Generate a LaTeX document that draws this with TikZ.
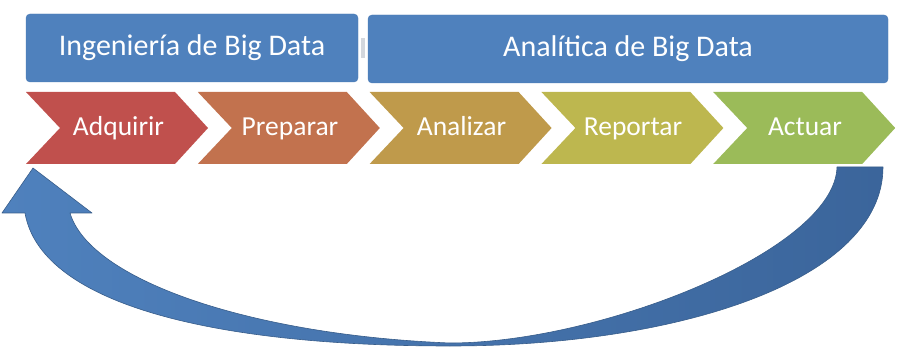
\documentclass[tikz,border=0pt]{standalone}
\usepackage{fontspec}
\setmainfont{Carlito}
\definecolor{boxblue}{HTML}{4F81BD}
\definecolor{boxedge}{HTML}{4A7AB5}
\definecolor{arrowL}{HTML}{4F81BD}
\definecolor{arrowR}{HTML}{3B659B}
\definecolor{arrowedge}{HTML}{385D8A}
\definecolor{cA}{HTML}{C0504D}
\definecolor{cB}{HTML}{C2724E}
\definecolor{cC}{HTML}{BF9A4B}
\definecolor{cD}{HTML}{BDB74F}
\definecolor{cE}{HTML}{9BBB59}
\definecolor{sepgray}{HTML}{D3D7DD}
\begin{document}
\begin{tikzpicture}[x=1pt,y=-1pt,
  bigbox/.style={fill=boxblue, draw=boxedge, rounded corners=4pt, text=white,
    font=\fontsize{30}{33}\selectfont, inner sep=0pt,
    text height=19.3pt, text depth=4pt, minimum height=68pt},
  chevtext/.style={text=white, font=\fontsize{27.5}{30}\selectfont, inner sep=0pt,
    text height=17.7pt, text depth=2pt},
  chev/.style={draw=none}]
\useasboundingbox (0,0) rectangle (899,363);

% top boxes
\node[bigbox, minimum width=332pt] (ing) at (192,48) {Ingeniería de Big Data};
\node[bigbox, minimum width=520pt] (ana) at (628,49) {Analítica de Big Data};
\fill[sepgray] (361,38) rectangle (365,58);

% chevrons
\foreach \xs/\col in {26/cA, 197.8/cB, 369.6/cC, 541.4/cD, 713.2/cE}{
  \fill[\col] (\xs,92) -- ++(149,0) -- ++(33,36) -- ++(-33,36) -- ++(-149,0) -- ++(34,-36) -- cycle;
}
\node[chevtext] (adq) at (118.5,128) {Adquirir};
\node[chevtext] (pre) at (290,128) {Preparar};
\node[chevtext] (anl) at (461.5,128) {Analizar};
\node[chevtext] (rep) at (633,128) {Reportar};
\node[chevtext] (act) at (805,128) {Actuar};

% curved return arrow
\coordinate (tailR) at (883,167);
\coordinate (tailL) at (837,167);
\coordinate (botI) at (450,343);
\coordinate (botO) at (450,346);
\coordinate (shI) at (70,213);
\coordinate (hdR) at (92,213);
\coordinate (tip) at (33,168);
\coordinate (hdL) at (2,213);
\coordinate (shO) at (25,213);
\path[left color=arrowL, right color=arrowR, draw=arrowedge, line width=0.6pt, line join=round]
  (tailR) -- (tailL)
  .. controls (835,250) and (600,343) .. (botI)
  .. controls (250,335) and (90,280) .. (shI)
  -- (hdR) -- (tip) -- (hdL) -- (shO)
  .. controls (40,300) and (200,346) .. (botO)
  .. controls (680,346) and (883,280) .. (tailR) -- cycle;
\end{tikzpicture}
\end{document}
